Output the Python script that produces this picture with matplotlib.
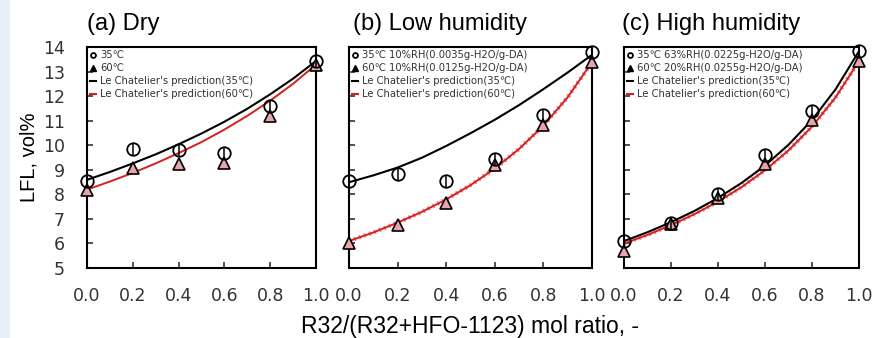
import matplotlib
matplotlib.use('Agg')
import matplotlib.pyplot as plt
from matplotlib.lines import Line2D
from matplotlib.patches import Rectangle

# measured LFL points (vol%) vs R32 mole ratio
ratio = [0.0, 0.2, 0.4, 0.6, 0.8, 1.0]
dry_35 = [8.55, 9.85, 9.8, 9.7, 11.6, 13.45]
dry_60 = [8.2, 9.1, 9.25, 9.3, 11.2, 13.3]
low_35 = [8.55, 8.85, 8.55, 9.45, 11.25, 13.8]
low_60 = [6.0, 6.75, 7.65, 9.2, 10.85, 13.4]
high_35 = [6.1, 6.85, 8.0, 9.6, 11.4, 13.85]
high_60 = [5.7, 6.8, 7.85, 9.25, 11.05, 13.45]

# Le Chatelier prediction curves
pred_ratio = [0.0, 0.1, 0.2, 0.3, 0.4, 0.5, 0.6, 0.7, 0.8, 0.9, 1.0]
dry_pred_35 = [8.6, 8.92, 9.27, 9.64, 10.05, 10.49, 10.97, 11.5, 12.09, 12.73, 13.45]
dry_pred_60 = [8.2, 8.53, 8.88, 9.27, 9.69, 10.14, 10.65, 11.21, 11.83, 12.52, 13.3]
low_pred_35 = [8.5, 8.78, 9.1, 9.5, 9.98, 10.5, 11.05, 11.65, 12.3, 12.98, 13.7]
low_pred_60 = [6.1, 6.45, 6.85, 7.29, 7.8, 8.38, 9.06, 9.86, 10.81, 11.97, 13.4]
high_pred_35 = [6.1, 6.46, 6.87, 7.33, 7.86, 8.47, 9.18, 10.03, 11.04, 12.29, 13.85]
high_pred_60 = [6.0, 6.35, 6.75, 7.2, 7.71, 8.3, 8.99, 9.8, 10.77, 11.96, 13.45]

titles = ['(a) Dry', '(b) Low humidity', '(c) High humidity']
legend_35 = ['35℃', '35℃ 10%RH(0.0035g-H2O/g-DA)', '35℃ 63%RH(0.0225g-H2O/g-DA)']
legend_60 = ['60℃', '60℃ 10%RH(0.0125g-H2O/g-DA)', '60℃ 20%RH(0.0255g-H2O/g-DA)']

panels = [
    (dry_35, dry_60, dry_pred_35, dry_pred_60),
    (low_35, low_60, low_pred_35, low_pred_60),
    (high_35, high_60, high_pred_35, high_pred_60),
]

fig = plt.figure(figsize=(8.72, 3.38), dpi=100)
fig.patches.append(Rectangle((0, 0), 0.011, 1, transform=fig.transFigure,
                             facecolor='#e6eef7', edgecolor='none', zorder=0))

boxes = [(0.0998, 0.2626), (0.4002, 0.2787), (0.7156, 0.2695)]
title_x = [0.1, 0.405, 0.713]
bottom, height = 0.2071, 0.6524
pink = '#e8a4aa'
red = '#d42020'

for i, (box, data) in enumerate(zip(boxes, panels)):
    m35, m60, p35, p60 = data
    ax = fig.add_axes([box[0], bottom, box[1], height])
    ax.plot(pred_ratio, p35, color='black', lw=1.5, zorder=2)
    ax.plot(pred_ratio, p60, color=red, lw=1.4, zorder=2)
    if i > 0:
        ax.plot(pred_ratio, p60, color=red, lw=3.2, ls=(0, (0.4, 0.8)), alpha=0.55, zorder=2)
    ax.plot(ratio, m60, ls='none', marker='^', ms=8, mfc=pink, mec='black', mew=1.2,
            clip_on=False, zorder=3)
    ax.plot(ratio, m35, ls='none', marker='o', ms=9, mfc='none', mec='black', mew=1.3,
            clip_on=False, zorder=4)
    ax.plot(ratio, m35, ls='none', marker='|', ms=9, mec='black', mew=1.1,
            clip_on=False, zorder=4)

    ax.set_xlim(0, 1)
    ax.set_ylim(5, 14)
    ax.set_xticks(ratio)
    ax.set_xticklabels(['%.1f' % v for v in ratio])
    ax.set_yticks(range(5, 15))
    ax.tick_params(direction='in', length=4, width=1.2, labelsize=12.5, colors='#333333')
    ax.tick_params(axis='x', pad=14)
    ax.tick_params(axis='y', pad=16)
    for s in ax.spines.values():
        s.set_linewidth(1.5)
    if i == 0:
        ax.set_ylabel('LFL, vol%', fontsize=14.5, family='Liberation Sans', labelpad=3)
    else:
        ax.set_yticklabels([])

    handles = [
        Line2D([], [], ls='none', marker='o', ms=3.5, mfc='none', mec='black', mew=1.3),
        Line2D([], [], ls='none', marker='^', ms=4, mfc='black', mec='black'),
        Line2D([], [], color='black', lw=1.5),
        Line2D([], [], color=red, lw=1.5),
    ]
    labels = [legend_35[i], legend_60[i],
              "Le Chatelier's prediction(35℃)", "Le Chatelier's prediction(60℃)"]
    ax.legend(handles, labels, loc='upper left', frameon=False, fontsize=7.2,
              handlelength=0.6, handletextpad=0.4, labelspacing=0.3,
              borderaxespad=0.1, borderpad=0.2, labelcolor='#333333')

    fig.text(title_x[i], 0.93, titles[i], fontsize=17, family='Liberation Sans',
             va='center', ha='left')

fig.text(0.539, 0.035, 'R32/(R32+HFO-1123) mol ratio, -', fontsize=16.5,
         family='Liberation Sans', ha='center', va='center')

fig.savefig('out.png', dpi=100)
